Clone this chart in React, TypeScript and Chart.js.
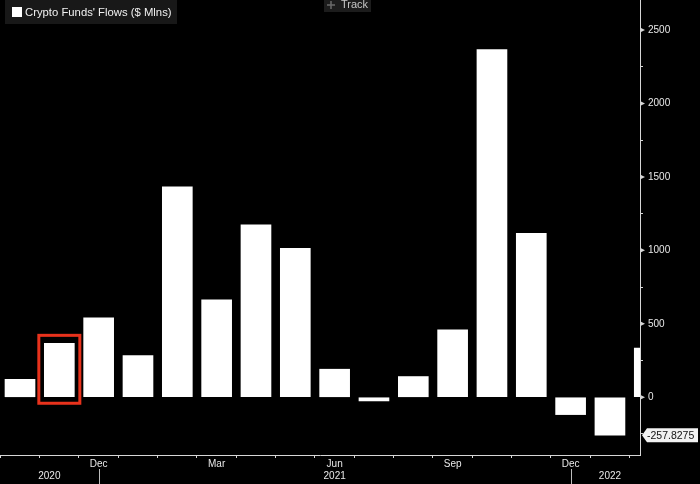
import React, { useEffect, useRef } from 'react';
import { Chart, registerables } from 'chart.js';

Chart.register(...registerables);

// ---- data ----
const months = [
  'Oct 2020', 'Nov 2020', 'Dec 2020', 'Jan 2021', 'Feb 2021', 'Mar 2021',
  'Apr 2021', 'May 2021', 'Jun 2021', 'Jul 2021', 'Aug 2021', 'Sep 2021',
  'Oct 2021', 'Nov 2021', 'Dec 2021', 'Jan 2022', 'Feb 2022',
];
const flows = [
  122, 367, 540, 283, 1433, 663, 1174, 1013, 191, -25, 141, 459, 2366, 1115,
  -118, -257.8275, 334,
];
const labelledMonths = ['Dec', 'Mar', 'Jun', 'Sep'];
const seriesName = "Crypto Funds' Flows ($ Mlns)";
const highlightIndex = 1;
const lastValueIndex = 15;

// ---- axis ranges ----
const yMin = -393;
const yMax = 2704;
const yStep = 250;
const yLabelStep = 500;
const xMin = -0.5085;
const xMax = 15.764;

const FONT = '"Liberation Sans", Arial, sans-serif';
const TEXT = '#e8e8e8';
const AXIS = '#d6d6d6';

const zeroPad = (s: any) => {
  s.paddingLeft = 0;
  s.paddingRight = 0;
  s.paddingTop = 0;
  s.paddingBottom = 0;
};

const overlayPlugin = {
  id: 'overlay',
  afterDatasetsDraw(chart: any) {
    const ctx = chart.ctx;
    const meta = chart.getDatasetMeta(0);
    const bar = meta.data[highlightIndex];
    if (!bar) return;
    const p = bar.getProps(['x', 'y', 'base', 'width'], true);
    const left = p.x - p.width / 2 - 5.5;
    const right = p.x + p.width / 2 + 5.5;
    const top = Math.min(p.y, p.base) - 8;
    const bottom = Math.max(p.y, p.base) + 6.5;
    ctx.save();
    ctx.strokeStyle = '#e8321c';
    ctx.lineWidth = 3;
    ctx.strokeRect(left, top, right - left, bottom - top);
    ctx.restore();
  },
  afterDraw(chart: any) {
    const ctx = chart.ctx;
    const xs = chart.scales.x;
    const ys = chart.scales.y;
    const area = chart.chartArea;
    ctx.save();

    // major tick flags on the y axis
    ctx.fillStyle = AXIS;
    ys.ticks.forEach((t: any) => {
      if (t.value % yLabelStep !== 0) return;
      const y = ys.getPixelForValue(t.value);
      ctx.beginPath();
      ctx.moveTo(area.right, y - 2.5);
      ctx.lineTo(area.right + 5, y);
      ctx.lineTo(area.right, y + 2.5);
      ctx.closePath();
      ctx.fill();
    });

    // year separators and year labels
    const years: string[] = [];
    months.forEach((m) => {
      const yr = m.split(' ')[1];
      if (!years.includes(yr)) years.push(yr);
    });
    const sepX: number[] = [];
    months.forEach((m, i) => {
      const next = months[i + 1];
      if (next && next.split(' ')[1] !== m.split(' ')[1]) {
        sepX.push(xs.getPixelForValue(i));
      }
    });
    ctx.strokeStyle = '#bdbdbd';
    ctx.lineWidth = 1;
    sepX.forEach((x) => {
      ctx.beginPath();
      ctx.moveTo(Math.round(x) + 0.5, 469);
      ctx.lineTo(Math.round(x) + 0.5, 484);
      ctx.stroke();
    });
    ctx.fillStyle = TEXT;
    ctx.font = `10px ${FONT}`;
    ctx.textAlign = 'center';
    ctx.textBaseline = 'middle';
    years.forEach((yr, k) => {
      const l = k === 0 ? area.left : sepX[k - 1];
      const r = k < sepX.length ? sepX[k] : xs.getPixelForValue(months.length - 1);
      ctx.fillText(yr, (l + r) / 2, 476);
    });

    // last value label
    const v = flows[lastValueIndex];
    const vy = ys.getPixelForValue(v);
    const bx = area.right + 2;
    ctx.fillStyle = '#f2f2f2';
    ctx.beginPath();
    ctx.moveTo(bx, vy);
    ctx.lineTo(bx + 5, vy - 7);
    ctx.lineTo(698, vy - 7);
    ctx.lineTo(698, vy + 7);
    ctx.lineTo(bx + 5, vy + 7);
    ctx.closePath();
    ctx.fill();
    ctx.fillStyle = '#111111';
    ctx.font = `10.5px ${FONT}`;
    ctx.textAlign = 'left';
    ctx.textBaseline = 'middle';
    ctx.fillText(String(v), bx + 5, vy + 0.5);

    // legend box
    ctx.fillStyle = '#181818';
    ctx.fillRect(5, 0, 172, 24);
    ctx.fillStyle = '#ffffff';
    ctx.fillRect(12, 7, 10, 10);
    ctx.fillStyle = '#f0f0f0';
    ctx.font = `11.3px ${FONT}`;
    ctx.textAlign = 'left';
    ctx.textBaseline = 'middle';
    ctx.fillText(seriesName, 25, 12.5);

    // track button
    ctx.fillStyle = '#1c1c1c';
    ctx.fillRect(324, 0, 47, 12);
    ctx.strokeStyle = '#6a6a6a';
    ctx.lineWidth = 1.5;
    ctx.beginPath();
    ctx.moveTo(327, 5);
    ctx.lineTo(335, 5);
    ctx.moveTo(331, 1);
    ctx.lineTo(331, 9);
    ctx.stroke();
    ctx.fillStyle = '#c6c6c6';
    ctx.font = `11px ${FONT}`;
    ctx.fillText('Track', 341, 5);

    ctx.restore();
  },
};

export default function App() {
  const ref = useRef<HTMLCanvasElement | null>(null);

  useEffect(() => {
    if (!ref.current) return;
    const chart = new Chart(ref.current, {
      type: 'bar',
      data: {
        datasets: [
          {
            label: seriesName,
            data: flows.map((v, i) => ({ x: i, y: v })),
            backgroundColor: '#ffffff',
            borderWidth: 0,
            barThickness: 30,
          },
        ],
      },
      options: {
        animation: false,
        responsive: false,
        maintainAspectRatio: false,
        layout: { padding: 0 },
        plugins: {
          legend: { display: false },
          tooltip: { enabled: false },
        },
        scales: {
          x: {
            type: 'linear',
            min: xMin,
            max: xMax,
            offset: false,
            grid: {
              drawOnChartArea: false,
              drawTicks: true,
              tickLength: 3,
              tickColor: AXIS,
              color: AXIS,
            },
            border: { display: true, color: AXIS, width: 1, z: 1 },
            ticks: {
              stepSize: 1,
              autoSkip: false,
              maxRotation: 0,
              includeBounds: false,
              padding: 0,
              color: TEXT,
              font: { family: FONT, size: 10 },
              callback: (val: any) => {
                const m = months[Math.round(Number(val))];
                if (!m) return '';
                const abbr = m.split(' ')[0];
                return labelledMonths.includes(abbr) ? abbr : '';
              },
            },
            afterFit: (s: any) => {
              s.height = 29;
              zeroPad(s);
            },
          },
          y: {
            position: 'right',
            min: yMin,
            max: yMax,
            grid: {
              drawOnChartArea: false,
              drawTicks: true,
              tickLength: 3,
              tickColor: AXIS,
              color: AXIS,
            },
            border: { display: true, color: AXIS, width: 1, z: 1 },
            ticks: {
              stepSize: yStep,
              includeBounds: false,
              padding: 5,
              color: TEXT,
              font: { family: FONT, size: 10 },
              callback: (val: any) =>
                Number(val) % yLabelStep === 0 ? String(val) : '',
            },
            afterFit: (s: any) => {
              s.width = 60;
              zeroPad(s);
            },
          },
        },
      },
      plugins: [overlayPlugin],
    } as any);
    return () => chart.destroy();
  }, []);

  return (
    <div
      style={{
        position: 'fixed',
        left: 0,
        top: 0,
        width: 700,
        height: 484,
        background: '#000000',
      }}
    >
      <canvas
        ref={ref}
        width={700}
        height={484}
        style={{ display: 'block', width: 700, height: 484 }}
      />
    </div>
  );
}
